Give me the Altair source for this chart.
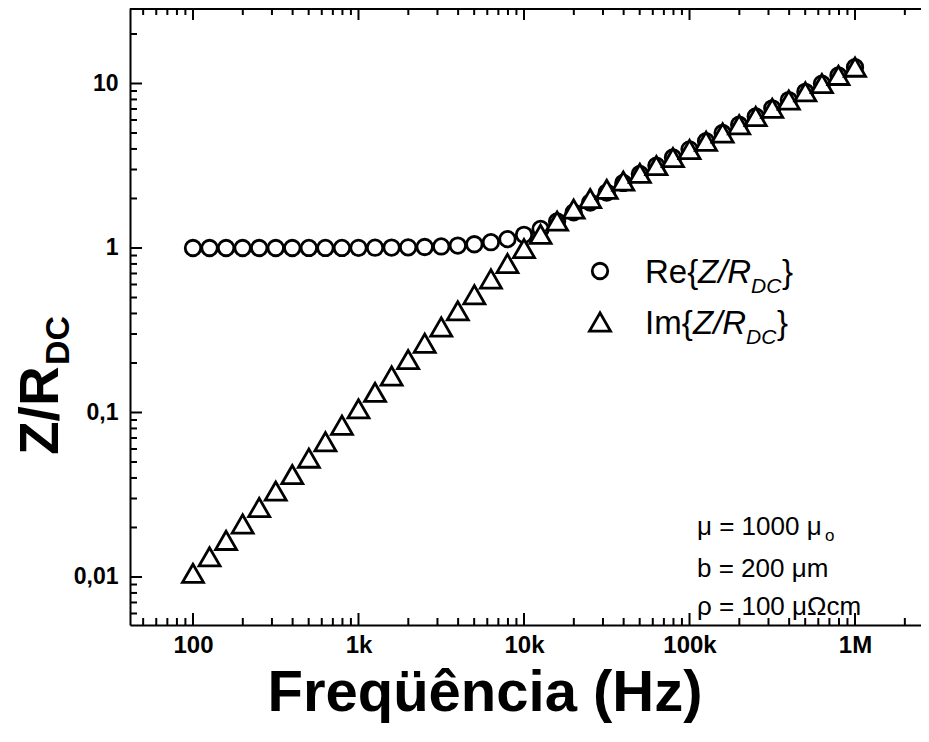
import altair as alt
import pandas as pd

# ---------------- data ----------------
freq = [100, 125.9, 158.5, 199.5, 251.2, 316.2, 398.1, 501.2, 631.0, 794.3,
        1000, 1259, 1585, 1995, 2512, 3162, 3981, 5012, 6310, 7943,
        10000, 12590, 15850, 19950, 25120, 31620, 39810, 50120, 63100, 79430,
        100000, 125900, 158500, 199500, 251200, 316200, 398100, 501200, 631000, 794300,
        1000000]
re_vals = [1.000, 1.000, 1.000, 1.000, 1.000, 1.000, 1.000, 1.001, 1.001, 1.001,
           1.002, 1.004, 1.006, 1.009, 1.014, 1.022, 1.035, 1.054, 1.085, 1.132,
           1.203, 1.306, 1.451, 1.646, 1.889, 2.173, 2.486, 2.818, 3.169, 3.551,
           3.978, 4.460, 5.004, 5.615, 6.300, 7.068, 7.932, 8.898, 9.984, 11.20,
           12.57]
im_vals = [0.01053, 0.01326, 0.01669, 0.02101, 0.02645, 0.0333, 0.04192, 0.05277, 0.06644, 0.08364,
           0.1053, 0.1325, 0.1667, 0.2097, 0.2636, 0.3310, 0.4152, 0.5197, 0.6484, 0.8052,
           0.9927, 1.211, 1.457, 1.723, 1.997, 2.272, 2.550, 2.843, 3.169, 3.543,
           3.972, 4.457, 5.003, 5.614, 6.300, 7.068, 7.932, 8.898, 9.984, 11.20,
           12.57]

x_major = [100, 1000, 10000, 100000, 1000000]
x_major_labels = ["100", "1k", "10k", "100k", "1M"]
x_minor = [50, 60, 70, 80, 90,
           200, 300, 400, 500, 600, 700, 800, 900,
           2000, 3000, 4000, 5000, 6000, 7000, 8000, 9000,
           20000, 30000, 40000, 50000, 60000, 70000, 80000, 90000,
           200000, 300000, 400000, 500000, 600000, 700000, 800000, 900000,
           2000000]
y_major = [0.01, 0.1, 1, 10]
y_major_labels = ["0,01", "0,1", "1", "10"]
y_minor = [0.006, 0.007, 0.008, 0.009,
           0.02, 0.03, 0.04, 0.05, 0.06, 0.07, 0.08, 0.09,
           0.2, 0.3, 0.4, 0.5, 0.6, 0.7, 0.8, 0.9,
           2, 3, 4, 5, 6, 7, 8, 9, 20]

# ---------------- layout ----------------
W, H = 791, 617
FONT = "Liberation Sans"
xs = alt.Scale(type="log", domain=[41.64, 2504000], nice=False)
ys = alt.Scale(type="log", domain=[0.005107, 28.77], nice=False)


def label_expr(vals, labels):
    expr = "''"
    for v, l in zip(reversed(vals), reversed(labels)):
        expr = f"abs(datum.value - {v}) < {v} * 0.001 ? '{l}' : ({expr})"
    return expr


x_axis = alt.Axis(values=x_major, labelExpr=label_expr(x_major, x_major_labels),
                  tickSize=0, grid=False, domainWidth=2, domainColor="black",
                  labelFont=FONT, labelFontWeight="bold", labelFontSize=24,
                  labelColor="black", labelPadding=8, labelFlush=False,
                  labelOverlap=False, title=None)
y_axis = alt.Axis(values=y_major, labelExpr=label_expr(y_major, y_major_labels),
                  tickSize=0, grid=False, domainWidth=2, domainColor="black",
                  labelFont=FONT, labelFontWeight="bold", labelFontSize=23,
                  labelColor="black", labelPadding=12, labelFlush=False,
                  labelOverlap=False, title=None)

df = pd.DataFrame({"f": freq, "re": re_vals, "im": im_vals})

C_SIZE, T_SIZE, SW = 240, 440, 2.8

circles = alt.Chart(df).mark_point(shape="circle", filled=True, fill="white", stroke="black",
                                   strokeWidth=SW, size=C_SIZE, opacity=1).encode(
    x=alt.X("f:Q", scale=xs, axis=x_axis),
    y=alt.Y("re:Q", scale=ys, axis=y_axis))
triangles = alt.Chart(df).mark_point(shape="triangle-up", filled=True, fill="white", stroke="black",
                                     strokeWidth=SW, size=T_SIZE, opacity=1).encode(
    x=alt.X("f:Q", scale=xs, axis=x_axis),
    y=alt.Y("im:Q", scale=ys, axis=y_axis))


def xticks(vals, length, top):
    d = pd.DataFrame({"v": vals})
    if top:
        yy, yy2 = 1, length
    else:
        yy, yy2 = H, H - length
    return alt.Chart(d).mark_rule(color="black", strokeWidth=2).encode(
        x=alt.X("v:Q", scale=xs, axis=x_axis), y=alt.value(yy), y2=alt.value(yy2))


def yticks(vals, length):
    d = pd.DataFrame({"v": vals})
    return alt.Chart(d).mark_rule(color="black", strokeWidth=2).encode(
        y=alt.Y("v:Q", scale=ys, axis=y_axis), x=alt.value(0), x2=alt.value(length))


one = pd.DataFrame({"a": [0]})


def txt(t, x, y, size, weight="normal", style="normal", angle=0, align="left", baseline="alphabetic"):
    return alt.Chart(one).mark_text(text=t, font=FONT, fontSize=size, fontWeight=weight,
                                    fontStyle=style, angle=angle, align=align,
                                    baseline=baseline, color="black").encode(
        x=alt.value(x), y=alt.value(y))


top_line = alt.Chart(one).mark_rule(color="black", strokeWidth=2).encode(
    x=alt.value(0), x2=alt.value(W), y=alt.value(1))

leg_c = alt.Chart(one).mark_point(shape="circle", filled=True, fill="white", stroke="black",
                                  strokeWidth=SW, size=C_SIZE, opacity=1).encode(
    x=alt.value(470), y=alt.value(263))
leg_t = alt.Chart(one).mark_point(shape="triangle-up", filled=True, fill="white", stroke="black",
                                  strokeWidth=SW, size=T_SIZE, opacity=1).encode(
    x=alt.value(470), y=alt.value(314))

LS = 33
SS = 21
leg_texts = [
    txt("Re{", 515, 275, LS), txt("Z/R", 568, 275, LS, style="italic"),
    txt("DC", 621, 285, SS, style="italic"), txt("}", 652, 275, LS),
    txt("Im{", 515, 326, LS), txt("Z/R", 563, 326, LS, style="italic"),
    txt("DC", 616, 336, SS, style="italic"), txt("}", 647, 326, LS),
]

AS = 26
ann = [
    txt("\u03bc = 1000 \u03bc", 567, 527, AS), txt("o", 695, 533, 17),
    txt("b = 200 \u03bcm", 567, 569, AS),
    txt("\u03c1 = 100 \u03bc\u03a9cm", 567, 607, AS),
]

titles = [
    txt("Freq\u00fc\u00eancia (Hz)", 355, 703, 58, weight="bold", align="center"),
    txt("Z/R", -72, 447, 55, weight="bold", angle=270),
    txt("DC", -61, 357, 34, weight="bold", angle=270),
]

layers = [top_line,
          xticks(x_major, 12, False), xticks(x_minor, 7, False),
          xticks(x_major, 12, True), xticks(x_minor, 7, True),
          yticks(y_major, 12), yticks(y_minor, 7),
          circles, triangles, leg_c, leg_t] + leg_texts + ann + titles

chart = alt.layer(*layers).properties(
    width=W, height=H,
    padding={"left": 122, "top": 0, "right": 0, "bottom": 109},
    autosize=alt.AutoSizeParams(type="none"),
    background="white",
).configure_view(stroke=None)

chart.save("out.html", embed_options={"renderer": "svg", "actions": False})
